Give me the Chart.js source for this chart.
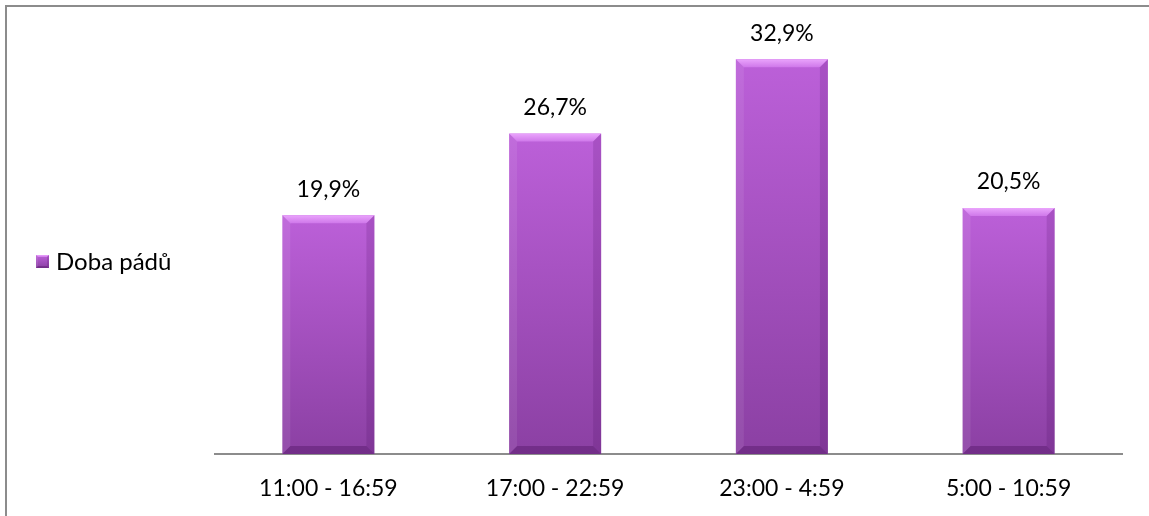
<!DOCTYPE html>
<html lang="cs">
<head>
<meta charset="UTF-8">
<title>Doba pádů</title>
<script src="https://cdn.jsdelivr.net/npm/chart.js"></script>
<style>
  html, body { margin: 0; padding: 0; background: #fff; }
  #wrap { position: relative; width: 1149px; height: 516px; overflow: hidden; }
  #frame { position: absolute; left: 5px; top: 5px; width: 1200px; height: 600px;
           border-top: 2px solid #8c8c8c; border-left: 2px solid #8c8c8c; }
  canvas { position: absolute; left: 0; top: 0; }
</style>
</head>
<body>
<div id="wrap">
  <div id="frame"></div>
  <canvas id="chart" width="1149" height="516"></canvas>
</div>
<script>
// data
const categories = ['11:00 - 16:59', '17:00 - 22:59', '23:00 - 4:59', '5:00 - 10:59'];
const seriesName = 'Doba pádů';
const values = [19.9, 26.7, 32.9, 20.5];
const valueLabels = ['19,9%', '26,7%', '32,9%', '20,5%'];

const FONT = 'Lato';
const BEVEL = 8;

function faceGradient(ctx, top, bottom) {
    const g = ctx.createLinearGradient(0, top, 0, bottom);
    g.addColorStop(0, '#bc60d9');
    g.addColorStop(1, '#8b40a3');
    return g;
}

// draws the bevelled box used for bars and the legend key
function bevelBox(ctx, x0, y0, x1, y1, b) {
    ctx.save();
    ctx.fillStyle = faceGradient(ctx, y0, y1);
    ctx.fillRect(x0, y0, x1 - x0, y1 - y0);
    // top
    let g = ctx.createLinearGradient(0, y0, 0, y0 + b);
    g.addColorStop(0, '#eaa4fc');
    g.addColorStop(1, '#cf78ea');
    ctx.fillStyle = g;
    ctx.beginPath();
    ctx.moveTo(x0, y0); ctx.lineTo(x1, y0); ctx.lineTo(x1 - b, y0 + b); ctx.lineTo(x0 + b, y0 + b);
    ctx.closePath(); ctx.fill();
    // left
    ctx.fillStyle = 'rgba(255,255,255,0.08)';
    ctx.beginPath();
    ctx.moveTo(x0, y0); ctx.lineTo(x0 + b, y0 + b); ctx.lineTo(x0 + b, y1 - b); ctx.lineTo(x0, y1);
    ctx.closePath(); ctx.fill();
    // right
    ctx.fillStyle = 'rgba(60,0,80,0.15)';
    ctx.beginPath();
    ctx.moveTo(x1, y0); ctx.lineTo(x1 - b, y0 + b); ctx.lineTo(x1 - b, y1 - b); ctx.lineTo(x1, y1);
    ctx.closePath(); ctx.fill();
    // bottom
    ctx.fillStyle = 'rgba(50,0,70,0.28)';
    ctx.beginPath();
    ctx.moveTo(x0, y1); ctx.lineTo(x1, y1); ctx.lineTo(x1 - b, y1 - b); ctx.lineTo(x0 + b, y1 - b);
    ctx.closePath(); ctx.fill();
    ctx.restore();
}

const bevelBars = {
    id: 'bevelBars',
    afterDatasetsDraw(chart) {
        const ctx = chart.ctx;
        const meta = chart.getDatasetMeta(0);
        meta.data.forEach((bar, i) => {
            const x0 = bar.x - bar.width / 2, x1 = bar.x + bar.width / 2;
            bevelBox(ctx, x0, bar.y, x1, bar.base, BEVEL);
            ctx.save();
            ctx.fillStyle = '#000';
            ctx.font = '23px ' + FONT;
            ctx.textAlign = 'center';
            ctx.textBaseline = 'middle';
            ctx.fillText(valueLabels[i], bar.x, bar.y - 26);
            ctx.restore();
        });
        // legend on the left
        bevelBox(ctx, 36, 255, 49, 268, 2);
        ctx.save();
        ctx.fillStyle = '#000';
        ctx.font = '24px ' + FONT;
        ctx.textAlign = 'left';
        ctx.textBaseline = 'middle';
        ctx.fillText(seriesName, 56, 262);
        ctx.restore();
    }
};

new Chart(document.getElementById('chart'), {
    type: 'bar',
    data: {
        labels: categories,
        datasets: [{
            label: seriesName,
            data: values,
            backgroundColor: 'rgba(0,0,0,0)',
            borderWidth: 0,
            categoryPercentage: 1,
            barPercentage: 0.406
        }]
    },
    options: {
        responsive: false,
        animation: false,
        layout: { padding: { left: 215, right: 27, top: 34, bottom: 0 } },
        plugins: { legend: { display: false }, tooltip: { enabled: false } },
        scales: {
            x: {
                grid: { display: false, drawTicks: false },
                border: { display: true, color: '#8c8c8c', width: 2 },
                ticks: { color: '#000', font: { family: FONT, size: 23 }, padding: 21 },
                afterFit: (s) => { s.height = 62; }
            },
            y: { display: false, min: 0, max: 35 }
        }
    },
    plugins: [bevelBars]
});
</script>
</body>
</html>
